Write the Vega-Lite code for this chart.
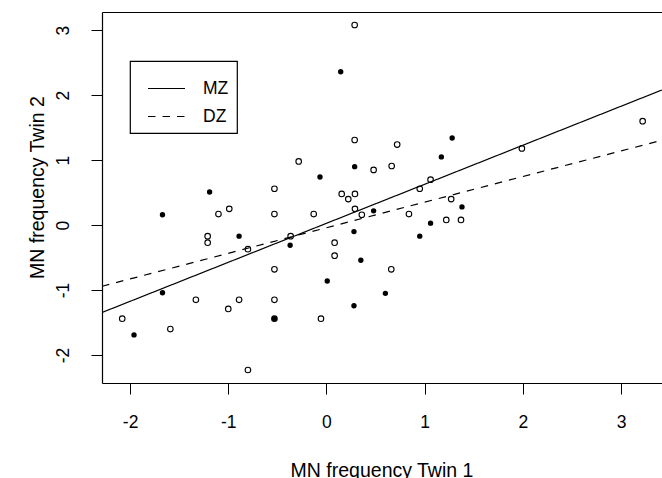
{
  "$schema": "https://vega.github.io/schema/vega-lite/v6.json",
  "width": 560,
  "height": 371,
  "autosize": {"type": "none"},
  "padding": {"left": 102, "top": 12, "right": 0, "bottom": 95},
  "background": "white",
  "datasets": {
    "pts": [
      {"x": 0.145, "y": 2.36, "type": "f"},
      {"x": 0.287, "y": 0.90, "type": "f"},
      {"x": -0.066, "y": 0.74, "type": "f"},
      {"x": -1.19, "y": 0.51, "type": "f"},
      {"x": 1.17, "y": 1.05, "type": "f"},
      {"x": 1.28, "y": 1.34, "type": "f"},
      {"x": -1.67, "y": 0.16, "type": "f"},
      {"x": 0.48, "y": 0.22, "type": "f"},
      {"x": -0.89, "y": -0.17, "type": "f"},
      {"x": -0.37, "y": -0.31, "type": "f"},
      {"x": 0.28, "y": -0.10, "type": "f"},
      {"x": 0.35, "y": -0.54, "type": "f"},
      {"x": 0.008, "y": -0.86, "type": "f"},
      {"x": -1.67, "y": -1.04, "type": "f"},
      {"x": -0.53, "y": -1.44, "type": "f"},
      {"x": 0.28, "y": -1.24, "type": "f"},
      {"x": -1.96, "y": -1.69, "type": "f"},
      {"x": 1.38, "y": 0.28, "type": "f"},
      {"x": 1.06, "y": 0.03, "type": "f"},
      {"x": 0.95, "y": -0.17, "type": "f"},
      {"x": 0.60, "y": -1.05, "type": "f"},
      {"x": 0.287, "y": 3.08, "type": "o"},
      {"x": 0.287, "y": 1.31, "type": "o"},
      {"x": -0.283, "y": 0.98, "type": "o"},
      {"x": 0.48, "y": 0.85, "type": "o"},
      {"x": -0.53, "y": 0.56, "type": "o"},
      {"x": 0.155, "y": 0.48, "type": "o"},
      {"x": 0.222, "y": 0.40, "type": "o"},
      {"x": 0.29, "y": 0.48, "type": "o"},
      {"x": 0.72, "y": 1.24, "type": "o"},
      {"x": 0.664, "y": 0.91, "type": "o"},
      {"x": 1.99, "y": 1.18, "type": "o"},
      {"x": 3.22, "y": 1.60, "type": "o"},
      {"x": 0.95, "y": 0.56, "type": "o"},
      {"x": 1.06, "y": 0.70, "type": "o"},
      {"x": 1.27, "y": 0.40, "type": "o"},
      {"x": -1.10, "y": 0.17, "type": "o"},
      {"x": -0.99, "y": 0.25, "type": "o"},
      {"x": -0.53, "y": 0.17, "type": "o"},
      {"x": -0.13, "y": 0.17, "type": "o"},
      {"x": 0.29, "y": 0.25, "type": "o"},
      {"x": 0.36, "y": 0.16, "type": "o"},
      {"x": -1.21, "y": -0.17, "type": "o"},
      {"x": -1.21, "y": -0.27, "type": "o"},
      {"x": -0.80, "y": -0.37, "type": "o"},
      {"x": -0.365, "y": -0.17, "type": "o"},
      {"x": 0.083, "y": -0.27, "type": "o"},
      {"x": 0.083, "y": -0.47, "type": "o"},
      {"x": -0.53, "y": -0.68, "type": "o"},
      {"x": -1.33, "y": -1.15, "type": "o"},
      {"x": -1.0, "y": -1.29, "type": "o"},
      {"x": -0.89, "y": -1.15, "type": "o"},
      {"x": -0.53, "y": -1.15, "type": "o"},
      {"x": -0.056, "y": -1.44, "type": "o"},
      {"x": -2.08, "y": -1.44, "type": "o"},
      {"x": -1.59, "y": -1.60, "type": "o"},
      {"x": -0.80, "y": -2.23, "type": "o"},
      {"x": 0.84, "y": 0.17, "type": "o"},
      {"x": 1.22, "y": 0.08, "type": "o"},
      {"x": 1.37, "y": 0.08, "type": "o"},
      {"x": 0.66, "y": -0.68, "type": "o"},
      {"x": -0.53, "y": -1.44, "type": "o"}
    ],
    "lines": [
      {"group": "MZ", "x": -2.286, "y": -1.345},
      {"group": "MZ", "x": 3.417, "y": 2.08},
      {"group": "DZ", "x": -2.286, "y": -0.941},
      {"group": "DZ", "x": 3.417, "y": 1.306}
    ]
  },
  "resolve": {"axis": {"x": "independent"}},
  "layer": [
    {
      "data": {"name": "lines"},
      "mark": {"type": "line", "color": "black", "strokeWidth": 1.2, "clip": true},
      "encoding": {
        "x": {"field": "x", "type": "quantitative", "scale": {"domain": [-2.286, 3.417], "nice": false, "zero": false},
              "axis": {"values": [-2, -1, 0, 1, 2, 3], "title": "MN frequency Twin 1",
                       "labelExpr": "datum.value < 0 ? '-' + abs(datum.value) : '' + datum.value"}},
        "y": {"field": "y", "type": "quantitative", "scale": {"domain": [-2.43, 3.28], "nice": false, "zero": false},
              "axis": {"values": [-2, -1, 0, 1, 2, 3], "title": "MN frequency Twin 2",
                       "labelExpr": "datum.value < 0 ? '-' + abs(datum.value) : '' + datum.value"}},
        "strokeDash": {"field": "group", "type": "nominal",
                       "scale": {"domain": ["MZ", "DZ"], "range": [[1, 0], [7.5, 7]]},
                       "legend": {"title": null}}
      }
    },
    {
      "data": {"name": "pts"},
      "transform": [{"filter": "datum.type === 'o'"}],
      "mark": {"type": "point", "shape": "circle", "filled": false, "color": "black", "strokeWidth": 1.1, "size": 31, "opacity": 1},
      "encoding": {
        "x": {"field": "x", "type": "quantitative", "axis": null},
        "y": {"field": "y", "type": "quantitative", "axis": {"values": [-2, -1, 0, 1, 2, 3], "title": "MN frequency Twin 2",
                       "labelExpr": "datum.value < 0 ? '-' + abs(datum.value) : '' + datum.value"}}
      }
    },
    {
      "data": {"name": "pts"},
      "transform": [{"filter": "datum.type === 'f'"}],
      "mark": {"type": "circle", "color": "black", "size": 29, "opacity": 1},
      "encoding": {
        "x": {"field": "x", "type": "quantitative", "axis": null},
        "y": {"field": "y", "type": "quantitative", "axis": {"values": [-2, -1, 0, 1, 2, 3], "title": "MN frequency Twin 2",
                       "labelExpr": "datum.value < 0 ? '-' + abs(datum.value) : '' + datum.value"}}
      }
    },
    {
      "data": {"name": "lines"},
      "mark": {"type": "point", "opacity": 0},
      "encoding": {
        "x": {"field": "x", "type": "quantitative", "axis": {"orient": "top", "labels": false, "ticks": false, "title": null}}
      }
    }
  ],
  "config": {
    "view": {"stroke": null},
    "font": "Liberation Sans",
    "axis": {
      "grid": false,
      "domainColor": "black",
      "domainWidth": 1.2,
      "tickColor": "black",
      "tickWidth": 1,
      "tickSize": 11,
      "labelColor": "black",
      "labelFont": "Liberation Sans",
      "labelFontSize": 17.5,
      "titleColor": "black",
      "titleFont": "Liberation Sans",
      "titleFontSize": 19.5,
      "titleFontWeight": "normal"
    },
    "axisBottom": {
      "labelBaseline": "alphabetic",
      "labelPadding": 33.7,
      "titleBaseline": "alphabetic",
      "titleX": 279.5,
      "titleY": 93,
      "titleAlign": "center"
    },
    "axisLeft": {
      "labelAngle": 270,
      "labelAlign": "center",
      "labelBaseline": "alphabetic",
      "labelPadding": 22.7,
      "titleAngle": 270,
      "titleAlign": "center",
      "titleBaseline": "alphabetic",
      "titleX": -58.7,
      "titleY": 175
    },
    "legend": {
      "orient": "none",
      "legendX": 28,
      "legendY": 49,
      "strokeColor": "black",
      "strokeWidth": 1.2,
      "padding": 8,
      "labelFont": "Liberation Sans",
      "labelFontSize": 17.5,
      "labelColor": "black",
      "labelOffset": 17,
      "symbolType": "stroke",
      "symbolSize": 1369,
      "symbolStrokeWidth": 1.2,
      "symbolStrokeColor": "black",
      "symbolOffset": 9,
      "rowPadding": -15
    }
  }
}
